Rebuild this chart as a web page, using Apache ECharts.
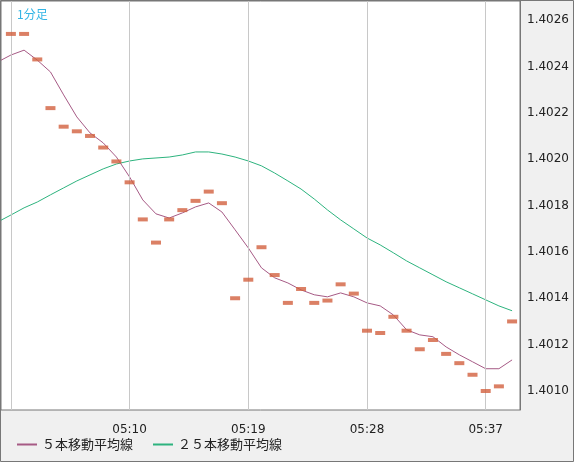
<!DOCTYPE html>
<html><head><meta charset="utf-8">
<script src="https://cdn.jsdelivr.net/npm/echarts@6/dist/echarts.min.js"></script>
<style>html,body{margin:0;padding:0;background:#f0f0f0}#c{width:574px;height:462px}</style>
</head><body><div id="c"></div>
<script>
// minutes after 05:00
const minutes = [0,1,2,3,4,5,6,7,8,9,10,11,12,13,14,15,16,17,18,19,20,21,22,23,24,25,26,27,28,29,30,31,32,33,34,35,36,37,38,39];
const closeMinutes = minutes.slice(1);
const closes = [1.40254,1.40254,1.40243,1.40222,1.40214,1.40212,1.40210,1.40205,1.40199,1.40190,
 1.40174,1.40164,1.40174,1.40178,1.40182,1.40186,1.40181,1.40140,1.40148,1.40162,
 1.40150,1.40138,1.40144,1.40138,1.40139,1.40146,1.40142,1.40126,1.40125,1.40132,
 1.40126,1.40118,1.40122,1.40116,1.40112,1.40107,1.40100,1.40102,1.40130];
const ma5 = [1.402419,1.402449,1.402470,1.402427,1.402376,1.402277,1.402182,1.402113,1.402070,1.402009,
 1.401923,1.401824,1.401764,1.401746,1.401768,1.401794,1.401811,1.401772,1.401695,1.401617,
 1.401531,1.401488,1.401466,1.401436,1.401415,1.401406,1.401423,1.401406,1.401380,1.401367,
 1.401328,1.401264,1.401242,1.401234,1.401190,1.401156,1.401126,1.401096,1.401096,1.401134];
const ma25 = [1.401729,1.401759,1.401790,1.401815,1.401846,1.401876,1.401906,1.401932,1.401958,1.401979,
 1.401992,1.402001,1.402005,1.402009,1.402018,1.402031,1.402031,1.402022,1.402009,1.401992,
 1.401971,1.401940,1.401906,1.401871,1.401828,1.401781,1.401738,1.401699,1.401660,1.401630,
 1.401596,1.401561,1.401531,1.401501,1.401471,1.401445,1.401419,1.401393,1.401367,1.401346];
const xTickMinutes = [10,19,28,37];
const xTickLabels = ["05:10","05:19","05:28","05:37"];
const xGridMinutes = [1,10,19,28,37];
const yTicks = [1.4010,1.4012,1.4014,1.4016,1.4018,1.4020,1.4022,1.4024,1.4026];
const names = ["５本移動平均線","２５本移動平均線"];

const chart = echarts.init(document.getElementById('c'));
const gridLines = xGridMinutes.map(m=>({xAxis:m})).concat(yTicks.map(v=>({yAxis:v})));
chart.setOption({
  animation:false,
  backgroundColor:'#f0f0f0',
  title:{text:'1分足',left:12,top:3,textStyle:{color:'#33b5e5',fontSize:12,fontWeight:'normal',fontFamily:'Noto Sans CJK JP'}},
  grid:{left:1,right:54,top:1,bottom:52,show:true,backgroundColor:'#fff',borderColor:'#777',borderWidth:1},
  legend:{left:12,bottom:6,itemWidth:20,itemHeight:2,itemGap:20,icon:'rect',
    textStyle:{fontFamily:'Noto Sans CJK JP',fontSize:13,color:'#222'},data:names},
  xAxis:{type:'value',min:0.25,max:39.6,splitLine:{show:false},axisLine:{show:false},axisTick:{show:false},
    axisLabel:{customValues:xTickMinutes,formatter:v=>xTickLabels[xTickMinutes.indexOf(v)],
      fontFamily:'DejaVu Sans',fontSize:12,color:'#222',margin:14}},
  yAxis:{type:'value',position:'right',min:1.400918,max:1.402682,splitLine:{show:false},
    axisLine:{show:true,lineStyle:{color:'#777'}},axisTick:{show:false},
    axisLabel:{customValues:yTicks,formatter:v=>v.toFixed(4),fontFamily:'DejaVu Sans',fontSize:12,color:'#222',margin:7}},
  series:[
    {type:'line',name:'grid',data:[[20,1.4018]],showSymbol:false,lineStyle:{opacity:0},silent:true,
      markLine:{silent:true,symbol:'none',label:{show:false},lineStyle:{color:'#c8c8c8',type:'solid',width:1},data:gridLines}},
    {type:'line',name:names[1],data:minutes.map((m,i)=>[m,ma25[i]]),showSymbol:false,
      lineStyle:{color:'#2db37e',width:1},itemStyle:{color:'#2db37e'},z:3},
    {type:'line',name:names[0],data:minutes.map((m,i)=>[m,ma5[i]]),showSymbol:false,
      lineStyle:{color:'#a65a85',width:1},itemStyle:{color:'#a65a85'},z:4},
    {type:'scatter',name:'close',data:closeMinutes.map((m,i)=>[m,closes[i]]),symbol:'rect',symbolSize:[10,4],
      itemStyle:{color:'#d2603f'},z:5}
  ],
  graphic:[{type:'rect',shape:{x:0.5,y:0.5,width:573,height:461},style:{fill:'none',stroke:'#777',lineWidth:1},z:100}]
});
</script></body></html>
